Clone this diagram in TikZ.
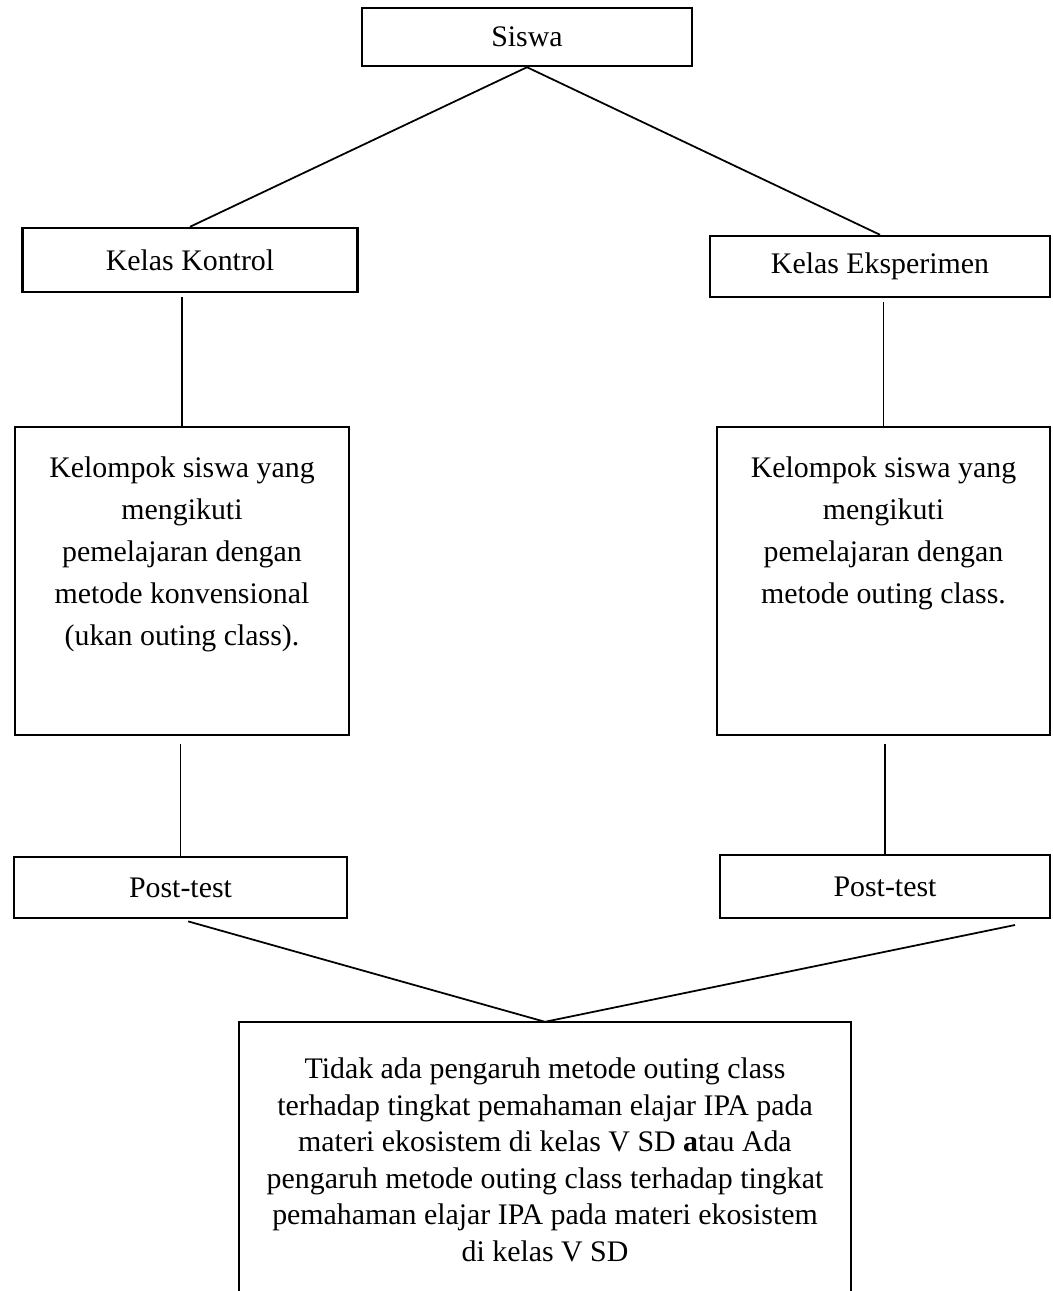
\documentclass[tikz,border=0pt]{standalone}
\usepackage{fontspec}
\setmainfont{Liberation Serif}

% Caja de texto alineada arriba: #1 ancho, #2 alto, #3 margen superior, #4 texto
\newcommand{\cajatexto}[4]{%
	\begin{minipage}[t][#2][t]{#1}\centering\vspace*{#3}#4\end{minipage}}

\begin{document}
\begin{tikzpicture}[
		x=0.02cm, y=-0.02cm,
		% Estilo de las cajas: borde grueso, sin margen interno
		caja/.style={draw, line width=1.4pt, inner sep=0pt, font=\fontsize{17}{20}\selectfont},
		% Estilo de las conexiones
		linea/.style={line width=1pt}
	]
	\useasboundingbox (0,0) rectangle (1053,1291);

	% --- 1. Definición de Nodos ---
	\node[caja, minimum width=6.6cm, minimum height=1.16cm] (S) at (527,37) {Siswa};

	\node[caja, minimum width=6.7cm, minimum height=1.28cm] (KK) at (190,260) {Kelas Kontrol};
	\node[caja, minimum width=6.8cm, minimum height=1.22cm] (KE) at (880,266.5) {Kelas Eksperimen};

	% Cajas grandes: el texto empieza arriba, no en el centro
	\node[caja, font=\fontsize{17}{23.9}\selectfont] (GK) at (182,581)
		{\cajatexto{6.68cm}{6.16cm}{0.6cm}{Kelompok siswa yang\\ mengikuti\\ pemelajaran dengan\\ metode konvensional\\ (ukan outing class).}};
	\node[caja, font=\fontsize{17}{23.9}\selectfont] (GE) at (883.5,581)
		{\cajatexto{6.66cm}{6.16cm}{0.6cm}{Kelompok siswa yang\\ mengikuti\\ pemelajaran dengan\\ metode outing class.}};

	\node[caja, minimum width=6.66cm, minimum height=1.22cm] (PK) at (180.5,887.5) {Post-test};
	\node[caja, minimum width=6.6cm, minimum height=1.26cm] (PE) at (885,886.5) {Post-test};

	% La caja inferior queda abierta por abajo (se sale de la imagen)
	\node[caja, draw=none, font=\fontsize{17}{20.8}\selectfont] (H) at (545,1161.5)
		{\cajatexto{12.2cm}{5.54cm}{0.7cm}{Tidak ada pengaruh metode outing class\\ terhadap tingkat pemahaman elajar IPA pada\\ materi ekosistem di kelas V SD \textbf{a}tau Ada\\ pengaruh metode outing class terhadap tingkat\\ pemahaman elajar IPA pada materi ekosistem\\ di kelas V SD}};
	\draw[line width=1.4pt] (H.south west) -- (H.north west) -- (H.north east) -- (H.south east);

	\coordinate (pe) at (1015,925);

	% --- 2. Conexiones Superiores ---
	\draw[linea] (S.south) -- (KK.north);
	\draw[linea] (S.south) -- (KE.north);

	\draw[linea, shorten <=0.08cm] (KK.south -| GK.north) -- (GK.north);
	\draw[linea, shorten <=0.08cm] (KE.south -| GE.north) -- (GE.north);

	% --- 3. Conexiones Inferiores ---
	\draw[linea, shorten <=0.16cm] (GK.south -| PK.north) -- (PK.north);
	\draw[linea, shorten <=0.16cm] (GE.south -| PE.north) -- (PE.north);

	\draw[linea, shorten <=0.16cm] (PK.south) -- (H.north);
	\draw[linea] (pe) -- (H.north);

\end{tikzpicture}
\end{document}
